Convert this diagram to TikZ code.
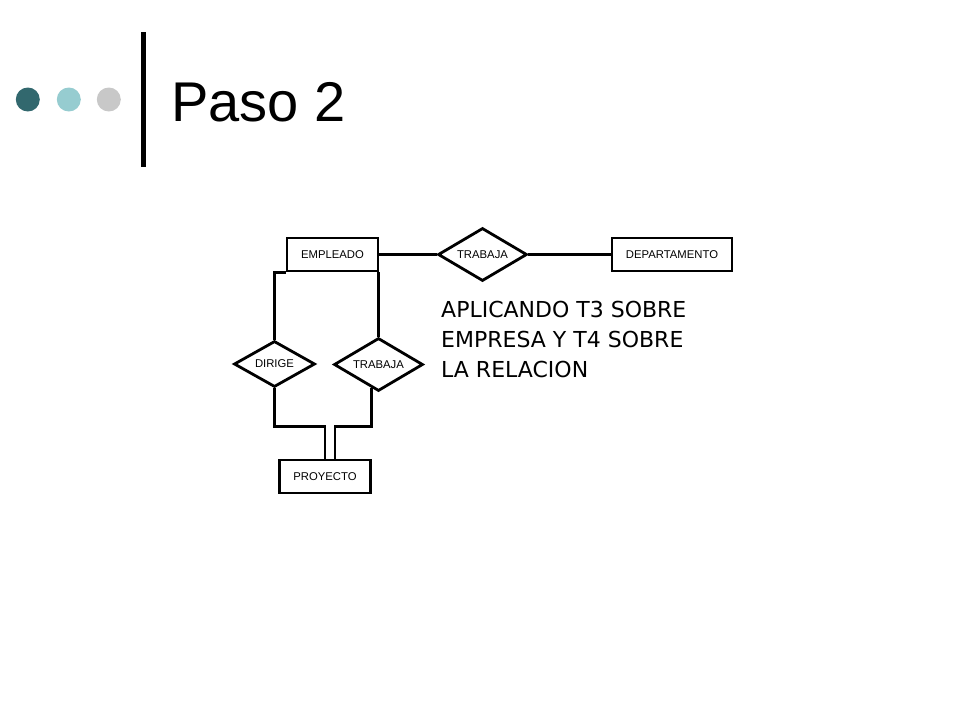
\documentclass[tikz,border=0pt]{standalone}
\usepackage{fontspec}
\setmainfont{Liberation Sans}
\newfontfamily\notafont{DejaVu Sans}
\usetikzlibrary{shapes.geometric, calc}
\definecolor{dotdark}{RGB}{50,104,110}
\definecolor{dotlight}{RGB}{150,204,208}
\definecolor{dotgray}{RGB}{200,200,200}
\tikzset{entity/.style={draw, line width=2.8pt, minimum width=91pt, minimum height=33pt,
        inner sep=0pt, font=\fontsize{11.3}{13}\selectfont},
    relation/.style={draw, diamond, line width=2.8pt, inner sep=0pt, aspect=1.65,
        minimum width=89pt, minimum height=53pt, font=\fontsize{11.3}{13}\selectfont},
    link/.style={line width=2.8pt}}

\begin{document}
\begin{tikzpicture}[x=1pt, y=-1pt]
        \useasboundingbox (0,0) rectangle (960,720);
        \fill[dotdark] (27.8,99.5) circle (12);
        \fill[dotlight] (68.8,99.5) circle (12);
        \fill[dotgray] (108.8,99.5) circle (12);
        \fill[black] (141.2,32) rectangle (145.6,167);
        \node[anchor=base west, inner sep=0pt, font=\fontsize{56}{60}\selectfont] (titulo) at (171,121) {Paso 2};

        \node[entity] (empleado) at (332.5,254.5) {EMPLEADO};
        \node[entity, minimum width=120pt] (departamento) at (672,254.5) {DEPARTAMENTO};
        \node[entity] (proyecto) at (325,476.5) {PROYECTO};
        \node[relation] (trabaja) at (482.5,254.5) {TRABAJA};
        \node[relation, minimum width=81pt, minimum height=46pt] (dirige) at (274.5,364) {DIRIGE};
        \node[relation] (trabajap) at (378.5,364.5) {TRABAJA};

        \draw[link] (empleado.east) -- (trabaja.west);
        \draw[link] (trabaja.east) -- (departamento.west);
        \draw[link] (empleado.south west) -| (dirige.north);
        \draw[link] (trabajap.north) -- (trabajap.north |- empleado.south);
        \coordinate (bajol) at (325,426.5);
        \coordinate (bajor) at (335,426.5);
        \draw[link] (dirige.south) |- (bajol) -- (bajol |- proyecto.north);
        \draw[link] ($(trabajap.south)!0.15!(trabajap.west)$) |- (bajor) -- (bajor |- proyecto.north);

        \node[anchor=base west, align=left, inner sep=0pt, font=\notafont\fontsize{22}{30}\selectfont] (nota) at (441,377)
            {APLICANDO T3 SOBRE\\EMPRESA Y T4 SOBRE\\LA RELACION};
    \end{tikzpicture}
\end{document}
